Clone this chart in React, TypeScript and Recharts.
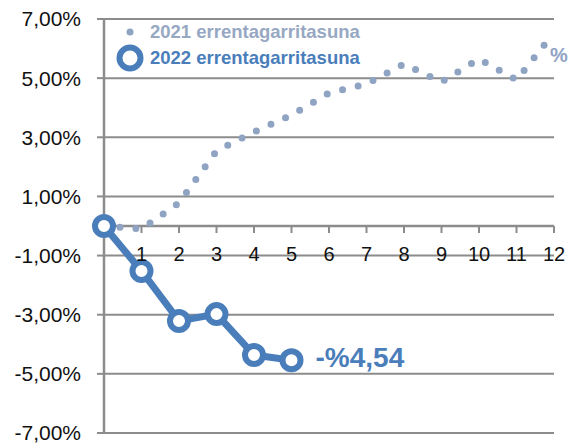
import { LineChart, Line, XAxis, YAxis, CartesianGrid, ReferenceLine } from 'recharts'

const months = [0, 1, 2, 3, 4, 5, 6, 7, 8, 9, 10, 11, 12]
const rent2021 = [0, -0.1, 0.78, 2.54, 3.18, 3.75, 4.5, 4.8, 5.48, 4.87, 5.65, 4.94, 6.53]
const rent2022 = [0, -1.52, -3.21, -2.98, -4.36, -4.54]
const xTicks = [1, 2, 3, 4, 5, 6, 7, 8, 9, 10, 11, 12]
const yTicks = [-7, -5, -3, -1, 1, 3, 5, 7]
const label2021 = '%6,53'
const label2022 = '-%4,54'

const data = months.map((m, i) => ({
  month: m,
  y2021: rent2021[i],
  y2022: i < rent2022.length ? rent2022[i] : null,
}))

const W = 568
const H = 444
const TOP = 19
const BOTTOM = 433
const Y_MIN = -7
const Y_MAX = 7
const zeroY = TOP + ((BOTTOM - TOP) * (Y_MAX - 0)) / (Y_MAX - Y_MIN)

const FONT = '"Liberation Sans", Arial, sans-serif'
const BLUE = '#4a7ebb'
const GREY_BLUE = '#8fa3c3'
const GRID = '#8c8c8c'

const fmtY = (v: number) => v.toFixed(2).replace('.', ',') + '%'

const XTick = ({ x, payload }: any) => (
  <g>
    <line x1={x} x2={x} y1={zeroY} y2={zeroY + 7} stroke={GRID} strokeWidth={2} />
    <text x={x} y={zeroY + 28} textAnchor="middle" dominantBaseline="central" fontSize={20} fill="#111" fontFamily={FONT}>
      {payload.value}
    </text>
  </g>
)

// legend drawn as an overlay so it doesn't eat plot space
const LegendBox = () => (
  <div
    style={{
      position: 'absolute',
      left: 112,
      top: 19,
      fontFamily: FONT,
      fontWeight: 700,
      fontSize: 18.5,
      lineHeight: '26px',
    }}
  >
    <div style={{ display: 'flex', alignItems: 'center', color: '#97a8c3', height: 26 }}>
      <svg width={36} height={26}>
        <circle cx={18} cy={13} r={3.5} fill={GREY_BLUE} />
      </svg>
      <span style={{ marginLeft: 2 }}>2021 errentagarritasuna</span>
    </div>
    <div style={{ display: 'flex', alignItems: 'center', color: BLUE, height: 26 }}>
      <svg width={36} height={30}>
        <circle cx={18} cy={15} r={10.5} fill="#fff" stroke={BLUE} strokeWidth={6} />
      </svg>
      <span style={{ marginLeft: 2 }}>2022 errentagarritasuna</span>
    </div>
  </div>
)

const endLabel = (text: string, last: number, color: string, size: number, dx: number, dy: number) =>
  (props: any) => {
    if (props.index !== last) return null
    return (
      <text
        x={props.x + dx}
        y={props.y + dy}
        dominantBaseline="central"
        fontSize={size}
        fontWeight={700}
        fill={color}
        fontFamily={FONT}
      >
        {text}
      </text>
    )
  }

export default function App() {
  return (
    <div style={{ position: 'absolute', left: 0, top: 0, width: W, height: H, background: '#fff' }}>
      <LineChart width={W} height={H} data={data} margin={{ top: TOP, right: 14, left: 0, bottom: 10 }}>
        <CartesianGrid vertical={false} stroke={GRID} strokeWidth={2} />
        <XAxis
          dataKey="month"
          type="number"
          domain={[0, 12]}
          ticks={xTicks}
          interval={0}
          axisLine={false}
          tickLine={false}
          tick={<XTick />}
          height={1}
        />
        <YAxis
          type="number"
          domain={[Y_MIN, Y_MAX]}
          ticks={yTicks}
          interval={0}
          width={104}
          tickFormatter={fmtY}
          axisLine={{ stroke: GRID, strokeWidth: 2.5 }}
          tickLine={{ stroke: GRID, strokeWidth: 2 }}
          tickSize={7}
          tickMargin={16}
          tick={{ fontSize: 21, fill: '#111', fontFamily: FONT }}
        />
        <ReferenceLine y={0} stroke={GRID} strokeWidth={2.5} />
        <Line
          dataKey="y2021"
          stroke={GREY_BLUE}
          strokeWidth={7}
          strokeDasharray="0 16"
          strokeLinecap="round"
          dot={false}
          isAnimationActive={false}
          label={endLabel(label2021, rent2021.length - 1, GREY_BLUE, 20, -4, 22)}
        />
        <Line
          dataKey="y2022"
          stroke={BLUE}
          strokeWidth={7}
          dot={{ r: 9, fill: '#fff', stroke: BLUE, strokeWidth: 6 }}
          isAnimationActive={false}
          label={endLabel(label2022, rent2022.length - 1, BLUE, 28, 24, -3)}
        />
      </LineChart>
      <LegendBox />
    </div>
  )
}
